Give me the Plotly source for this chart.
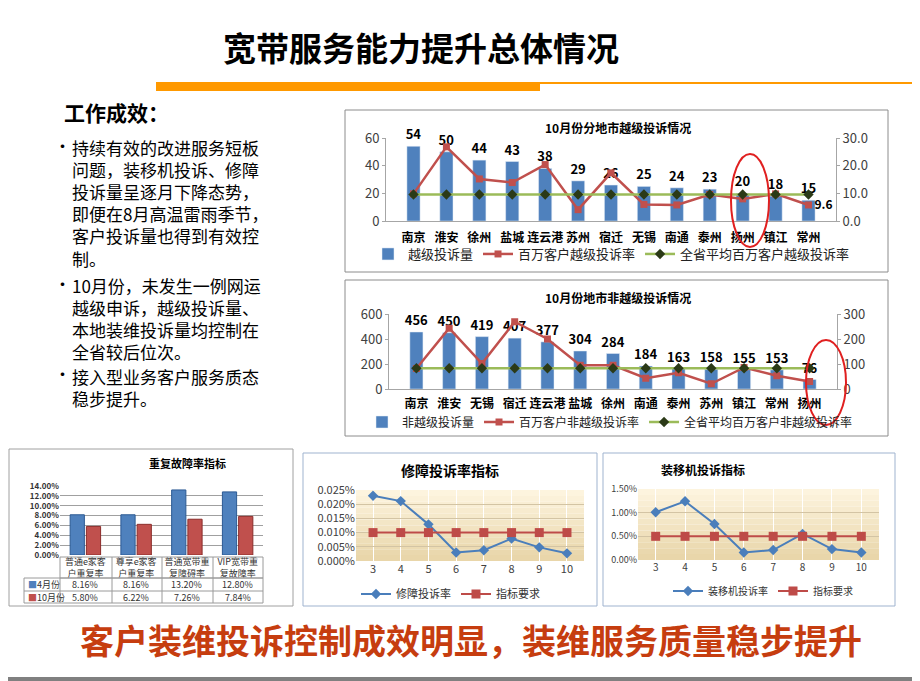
import plotly.graph_objects as go

# DATA
cities1 = ['南京', '淮安', '徐州', '盐城', '连云港', '苏州', '宿迁', '无锡', '南通', '泰州', '扬州', '镇江', '常州']
yueji_count = [54, 50, 44, 43, 38, 29, 26, 25, 24, 23, 20, 18, 15]
yueji_rate = [9.8, 26.8, 15.2, 13.9, 20.4, 4.1, 17.4, 6.0, 5.8, 9.6, 8.0, 9.8, 5.8]
yueji_avg = [9.6] * 13

cities2 = ['南京', '淮安', '无锡', '宿迁', '连云港', '盐城', '徐州', '南通', '泰州', '苏州', '镇江', '常州', '扬州']
fei_count = [456, 450, 419, 407, 377, 304, 284, 184, 163, 158, 155, 153, 76]
fei_rate = [82, 243, 102, 269, 200, 95, 95, 43, 65, 21, 86, 53, 30]
fei_avg = [83] * 13

repeat_cats = ['普通e家客<br>户重复率', '尊享e家客<br>户重复率', '普通宽带重<br>复障碍率', 'VIP宽带重<br>复故障率']
repeat_apr = [8.16, 8.16, 13.20, 12.80]
repeat_oct = [5.80, 6.22, 7.26, 7.84]

months = ['3', '4', '5', '6', '7', '8', '9', '10']
repair_rate = [0.0230, 0.0211, 0.0129, 0.0030, 0.0038, 0.0079, 0.0048, 0.0027]
repair_target = [0.010] * 8
install_rate = [1.01, 1.24, 0.76, 0.16, 0.21, 0.55, 0.23, 0.16]
install_target = [0.50] * 8

bullets = [
    ['持续有效的改进服务短板', '问题，装移机投诉、修障', '投诉量呈逐月下降态势，',
     '即便在8月高温雷雨季节，', '客户投诉量也得到有效控', '制。'],
    ['10月份，未发生一例网运', '越级申诉，越级投诉量、', '本地装维投诉量均控制在', '全省较后位次。'],
    ['接入型业务客户服务质态', '稳步提升。'],
]

FONT = 'Noto Sans CJK SC'
BLUE = '#4f81bd'
RED = '#c0504d'
GREEN = '#9bbb59'

# the page body adds an 8px margin, so pixel positions are shifted back by it
OFF = 8


def X(p):
    return (p - OFF) / 920


def Y(p):
    return 1 - (p - OFF) / 681


fig = go.Figure()

# chart 1
fig.add_trace(go.Bar(x=cities1, y=yueji_count, name='越级投诉量', marker_color=BLUE, width=0.4,
                     text=yueji_count, textposition='outside', cliponaxis=False, constraintext='none',
                     textfont=dict(size=13, color='black', weight='bold'),
                     xaxis='x', yaxis='y', legend='legend'))
fig.add_trace(go.Scatter(x=cities1, y=yueji_rate, name='百万客户越级投诉率', mode='lines+markers',
                         line=dict(color=RED, width=2.5), marker=dict(symbol='square', size=7, color=RED),
                         xaxis='x', yaxis='y2', legend='legend'))
fig.add_trace(go.Scatter(x=cities1, y=yueji_avg, name='全省平均百万客户越级投诉率', mode='lines+markers+text',
                         line=dict(color=GREEN, width=2.5), marker=dict(symbol='diamond', size=8, color='#2b3a17'),
                         text=[''] * 12 + [f'{yueji_avg[-1]}'], textposition='bottom right', cliponaxis=False,
                         textfont=dict(size=12, color='black', weight='bold'),
                         xaxis='x', yaxis='y2', legend='legend'))

# chart 2
fig.add_trace(go.Bar(x=cities2, y=fei_count, name='非越级投诉量', marker_color=BLUE, width=0.4,
                     text=fei_count, textposition='outside', cliponaxis=False, constraintext='none',
                     textfont=dict(size=13, color='black', weight='bold'),
                     xaxis='x2', yaxis='y3', legend='legend2'))
fig.add_trace(go.Scatter(x=cities2, y=fei_rate, name='百万客户非越级投诉率', mode='lines+markers',
                         line=dict(color=RED, width=2.5), marker=dict(symbol='square', size=7, color=RED),
                         xaxis='x2', yaxis='y4', legend='legend2'))
fig.add_trace(go.Scatter(x=cities2, y=fei_avg, name='全省平均百万客户非越级投诉率', mode='lines+markers',
                         line=dict(color=GREEN, width=2.5), marker=dict(symbol='diamond', size=8, color='#2b3a17'),
                         xaxis='x2', yaxis='y4', legend='legend2'))

# chart A - repeat fault
fig.add_trace(go.Bar(x=repeat_cats, y=repeat_apr, name='4月份', marker=dict(color=BLUE, line=dict(color='#2c5a94', width=1)),
                     width=0.28, offset=-0.3, xaxis='x3', yaxis='y5', showlegend=False))
fig.add_trace(go.Bar(x=repeat_cats, y=repeat_oct, name='10月份', marker=dict(color=RED, line=dict(color='#8c2d2a', width=1)),
                     width=0.28, offset=0.02, xaxis='x3', yaxis='y5', showlegend=False))

# chart B - repair
fig.add_trace(go.Scatter(x=months, y=repair_rate, name='修障投诉率', mode='lines+markers',
                         line=dict(color='#4a7ebb', width=2), marker=dict(symbol='diamond', size=8, color='#4a7ebb'),
                         xaxis='x4', yaxis='y6', legend='legend3'))
fig.add_trace(go.Scatter(x=months, y=repair_target, name='指标要求', mode='lines+markers',
                         line=dict(color='#be4b48', width=2), marker=dict(symbol='square', size=9, color='#be4b48'),
                         xaxis='x4', yaxis='y6', legend='legend3'))

# chart C - install
fig.add_trace(go.Scatter(x=months, y=install_rate, name='装移机投诉率', mode='lines+markers',
                         line=dict(color='#4a7ebb', width=2), marker=dict(symbol='diamond', size=8, color='#4a7ebb'),
                         xaxis='x5', yaxis='y7', legend='legend4'))
fig.add_trace(go.Scatter(x=months, y=install_target, name='指标要求', mode='lines+markers',
                         line=dict(color='#be4b48', width=2), marker=dict(symbol='square', size=9, color='#be4b48'),
                         xaxis='x5', yaxis='y7', legend='legend4'))

axis_line = '#a6a6a6'
tick_font = dict(family=FONT, size=13, color='#404040')
cat_font = dict(family=FONT, size=12, color='black', weight='bold')

fig.update_layout(
    width=920, height=681, margin=dict(l=0, r=0, t=0, b=0, autoexpand=False),
    paper_bgcolor='white', plot_bgcolor='white',
    font=dict(family=FONT),
    barmode='overlay',
    xaxis=dict(domain=[X(386), X(836)], anchor='y', showline=True, linecolor=axis_line, tickfont=cat_font, ticks='',
               ticklabelstandoff=6),
    yaxis=dict(domain=[Y(221), Y(138)], anchor='x', range=[0, 60], dtick=20, showgrid=False, showline=True,
               linecolor=axis_line, tickfont=tick_font, ticks='outside', ticklen=3, tickcolor=axis_line),
    yaxis2=dict(overlaying='y', side='right', anchor='x', range=[0, 30], dtick=10, tickformat='.1f',
                showgrid=False, showline=True, linecolor=axis_line, tickfont=tick_font,
                ticks='outside', ticklen=3, tickcolor=axis_line),
    xaxis2=dict(domain=[X(389), X(837)], anchor='y3', showline=True, linecolor=axis_line, tickfont=cat_font, ticks='',
                ticklabelstandoff=4),
    yaxis3=dict(domain=[Y(389), Y(314)], anchor='x2', range=[0, 600], dtick=200, showgrid=False, showline=True,
                linecolor=axis_line, tickfont=tick_font, ticks='outside', ticklen=3, tickcolor=axis_line),
    yaxis4=dict(overlaying='y3', side='right', anchor='x2', range=[0, 300], dtick=100,
                showgrid=False, showline=True, linecolor=axis_line, tickfont=tick_font,
                ticks='outside', ticklen=3, tickcolor=axis_line),
    xaxis3=dict(domain=[X(60), X(263)], anchor='y5', showline=False, ticks='',
                tickfont=dict(family=FONT, size=9, color='#333333')),
    yaxis5=dict(domain=[Y(555), Y(486)], anchor='x3', range=[0, 14], dtick=2, tickformat='.2f', ticksuffix='%',
                showgrid=True, gridcolor='#a0a0a0', showline=False, zeroline=False,
                tickfont=dict(family=FONT, size=8, color='#333333', weight='bold')),
    xaxis4=dict(domain=[X(356), X(584)], anchor='y6', showline=False, ticks='',
                tickfont=dict(family=FONT, size=11, color='#404040')),
    yaxis6=dict(domain=[Y(561), Y(490)], anchor='x4', range=[0, 0.025], dtick=0.005, tickformat='.3f', ticksuffix='%',
                showgrid=True, gridcolor='#d3c4a4', zeroline=False,
                tickfont=dict(family=FONT, size=11, color='#404040')),
    xaxis5=dict(domain=[X(638), X(879)], anchor='y7', showline=False, ticks='',
                tickfont=dict(family=FONT, size=10, color='#404040')),
    yaxis7=dict(domain=[Y(560), Y(489)], anchor='x5', range=[0, 1.5], dtick=0.5, tickformat='.2f', ticksuffix='%',
                showgrid=True, gridcolor='#d3c4a4', zeroline=False,
                tickfont=dict(family=FONT, size=9, color='#404040')),
    legend=dict(x=X(368), y=Y(254), xanchor='left', yanchor='middle', orientation='h',
                font=dict(family=FONT, size=13, color='#222222'), bgcolor='rgba(0,0,0,0)', itemwidth=30),
    legend2=dict(x=X(362), y=Y(422), xanchor='left', yanchor='middle', orientation='h',
                 font=dict(family=FONT, size=12, color='#222222'), bgcolor='rgba(0,0,0,0)', itemwidth=30),
    legend3=dict(x=X(356), y=Y(594), xanchor='left', yanchor='middle', orientation='h',
                 font=dict(family=FONT, size=11, color='#333333'), bgcolor='rgba(0,0,0,0)', itemwidth=30),
    legend4=dict(x=X(668), y=Y(591), xanchor='left', yanchor='middle', orientation='h',
                 font=dict(family=FONT, size=10, color='#333333'), bgcolor='rgba(0,0,0,0)', itemwidth=30),
)

shapes = []
# header bars
shapes.append(dict(type='rect', xref='paper', yref='paper', x0=X(156), x1=X(540), y0=Y(91), y1=Y(82),
                   fillcolor='#ff9900', line_width=0))
shapes.append(dict(type='rect', xref='paper', yref='paper', x0=X(540), x1=X(928), y0=Y(84), y1=Y(82),
                   fillcolor='#ff9900', line_width=0))
shapes.append(dict(type='rect', xref='paper', yref='paper', x0=0, x1=1, y0=Y(689), y1=Y(677),
                   fillcolor='#808080', line_width=0))
# chart boxes
for (x0, y0, x1, y1, c) in [(345, 110, 888, 272, '#8c8c8c'), (345, 280, 888, 436, '#8c8c8c'),
                            (9, 449, 293, 606, '#a0a0a0'), (303, 453, 597, 606, '#9fb3cf'),
                            (603, 453, 895, 606, '#9fb3cf')]:
    shapes.append(dict(type='rect', xref='paper', yref='paper', x0=X(x0), x1=X(x1), y0=Y(y1), y1=Y(y0),
                       line=dict(color=c, width=1), fillcolor='rgba(0,0,0,0)'))
# gradient backgrounds for line charts
n = 12
top = (253, 244, 222)
bot = (233, 214, 170)
for yr, xr in [('y6 domain', 'x4 domain'), ('y7 domain', 'x5 domain')]:
    for i in range(n):
        t = i / (n - 1)
        c = tuple(int(bot[k] + (top[k] - bot[k]) * t) for k in range(3))
        shapes.append(dict(type='rect', xref=xr, yref=yr, x0=0, x1=1, y0=i / n, y1=(i + 1) / n,
                           fillcolor='rgb(%d,%d,%d)' % c, line_width=0, layer='below'))
# table lines for chart A
tl = '#9a9a9a'
for yy in [557, 578]:
    shapes.append(dict(type='line', xref='paper', yref='paper', x0=X(60), x1=X(263), y0=Y(yy), y1=Y(yy),
                       line=dict(color=tl, width=1)))
for yy in [578, 591, 603]:
    shapes.append(dict(type='line', xref='paper', yref='paper', x0=X(24), x1=X(263), y0=Y(yy), y1=Y(yy),
                       line=dict(color=tl, width=1)))
for xx in [60, 112, 162, 213, 263]:
    shapes.append(dict(type='line', xref='paper', yref='paper', x0=X(xx), x1=X(xx), y0=Y(603), y1=Y(557),
                       line=dict(color=tl, width=1)))
shapes.append(dict(type='line', xref='paper', yref='paper', x0=X(24), x1=X(24), y0=Y(603), y1=Y(578),
                   line=dict(color=tl, width=1)))
# red ellipses
shapes.append(dict(type='circle', xref='paper', yref='paper', x0=X(731), x1=X(769), y0=Y(247), y1=Y(154),
                   line=dict(color='#e02020', width=2)))
shapes.append(dict(type='circle', xref='paper', yref='paper', x0=X(806), x1=X(846), y0=Y(425), y1=Y(340),
                   line=dict(color='#e02020', width=2)))
fig.update_layout(shapes=shapes)

ann = []
ann.append(dict(text='<b>宽带服务能力提升总体情况</b>', x=X(421), y=Y(47), font=dict(size=33, color='black')))
ann.append(dict(text='<b>客户装维投诉控制成效明显，装维服务质量稳步提升</b>', x=X(471), y=Y(639),
                font=dict(size=34, color='#c63d0f')))
ann.append(dict(text='<b>工作成效：</b>', x=X(62), y=Y(112), xanchor='left', font=dict(size=21, color='black')))
starts = [145, 283, 374]
for lines, y0 in zip(bullets, starts):
    ann.append(dict(text='•', x=X(52), y=Y(y0), xanchor='left', font=dict(size=17, color='black')))
    ann.append(dict(text='<br>'.join(lines), x=X(70), y=Y(y0 - 12), xanchor='left', yanchor='top', align='left',
                    font=dict(size=17, color='black')))
ann.append(dict(text='<b>10月份分地市越级投诉情况</b>', x=X(618), y=Y(127), font=dict(size=12, color='black')))
ann.append(dict(text='<b>10月份地市非越级投诉情况</b>', x=X(618), y=Y(297), font=dict(size=12, color='black')))
ann.append(dict(text='<b>重复故障率指标</b>', x=X(147), y=Y(463), font=dict(size=11, color='black')))
ann.append(dict(text='<b>修障投诉率指标</b>', x=X(450), y=Y(470), font=dict(size=14, color='black')))
ann.append(dict(text='<b>装移机投诉指标</b>', x=X(747), y=Y(469), font=dict(size=12, color='black')))
# table rows
ann.append(dict(text='<span style="color:%s">■</span>4月份' % BLUE, x=X(26), y=Y(584.5), xanchor='left',
                font=dict(size=9, color='#333333')))
ann.append(dict(text='<span style="color:%s">■</span>10月份' % RED, x=X(26), y=Y(597), xanchor='left',
                font=dict(size=9, color='#333333')))
for c, a, o in zip(repeat_cats, repeat_apr, repeat_oct):
    ann.append(dict(text=f'{a:.2f}%', x=c, xref='x3', y=Y(584.5), font=dict(size=9, color='#333333')))
    ann.append(dict(text=f'{o:.2f}%', x=c, xref='x3', y=Y(597), font=dict(size=9, color='#333333')))
for a in ann:
    a.setdefault('xref', 'paper')
    a.setdefault('yref', 'paper')
    a.setdefault('yanchor', 'middle')
    a['showarrow'] = False
    a['font']['family'] = FONT
fig.update_layout(annotations=ann)

fig.write_html('out.html')
